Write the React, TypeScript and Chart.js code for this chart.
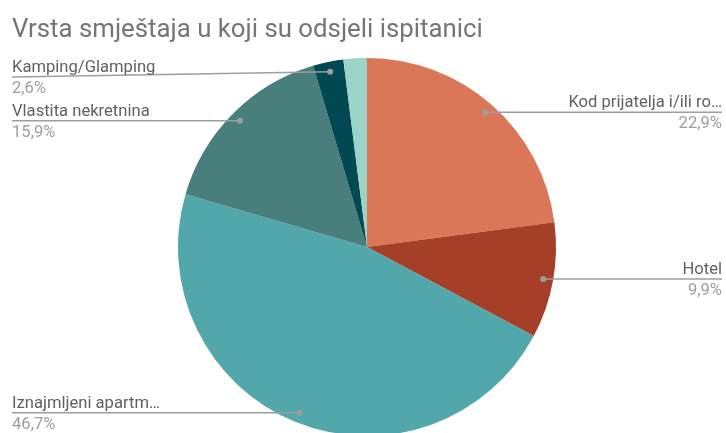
import React, { useEffect, useRef } from "react";
import { Chart, registerables } from "chart.js";

Chart.register(...registerables);

const titleText = "Vrsta smještaja u koji su odsjeli ispitanici";
const categories = [
  "Kod prijatelja i/ili ro…",
  "Hotel",
  "Iznajmljeni apartm…",
  "Vlastita nekretnina",
  "Kamping/Glamping",
  "Ostalo",
];
const values = [22.9, 9.9, 46.7, 15.9, 2.6, 2.0];
const valueLabels = ["22,9%", "9,9%", "46,7%", "15,9%", "2,6%", ""];
const showLabel = [true, true, true, true, true, false];
const colors = ["#DA7759", "#A63F27", "#51A7A9", "#487E7B", "#004852", "#9DD2C9"];

const labelPlugin = {
  id: "sideLabels",
  afterDraw(chart: any) {
    const ctx = chart.ctx;
    ctx.save();
    // title
    ctx.font = "25.8px Roboto";
    ctx.fillStyle = "#757575";
    ctx.textAlign = "left";
    ctx.textBaseline = "alphabetic";
    ctx.fillText(titleText, 12, 37);

    const meta = chart.getDatasetMeta(0);
    const minLabelY = 77;
    meta.data.forEach((arc: any, i: number) => {
      if (!showLabel[i]) return;
      const p = arc.getProps(["x", "y", "startAngle", "endAngle", "outerRadius"], true);
      const mid = (p.startAngle + p.endAngle) / 2;
      const r = p.outerRadius * 0.947;
      const dx = p.x + Math.cos(mid) * r;
      const dy = p.y + Math.sin(mid) * r;
      const right = Math.cos(mid) >= 0;
      const lineY = Math.max(dy, minLabelY);
      const endX = right ? chart.width - 4 : 12;

      ctx.strokeStyle = "#9e9e9e";
      ctx.lineWidth = 1.5;
      ctx.beginPath();
      ctx.moveTo(dx, dy);
      ctx.lineTo(endX, lineY);
      ctx.stroke();

      ctx.fillStyle = "#9e9e9e";
      ctx.beginPath();
      ctx.arc(dx, dy, 3, 0, Math.PI * 2);
      ctx.fill();

      ctx.textAlign = right ? "right" : "left";
      ctx.font = "16.6px Roboto";
      ctx.fillStyle = "#616161";
      ctx.fillText(categories[i], endX, lineY - 5);
      ctx.fillStyle = "#9e9e9e";
      ctx.fillText(valueLabels[i], endX, lineY + 16);
    });
    ctx.restore();
  },
};

export default function App() {
  const ref = useRef<HTMLCanvasElement | null>(null);
  useEffect(() => {
    if (!ref.current) return;
    const chart = new Chart(ref.current, {
      type: "pie",
      data: {
        labels: categories,
        datasets: [
          {
            data: values,
            backgroundColor: colors,
            borderWidth: 0,
          },
        ],
      },
      options: {
        animation: false,
        responsive: true,
        maintainAspectRatio: false,
        layout: { padding: { top: 58, bottom: 4, left: 178, right: 170 } },
        plugins: {
          legend: { display: false },
          tooltip: { enabled: false },
          title: { display: false },
        },
      },
      plugins: [labelPlugin],
    });
    return () => chart.destroy();
  }, []);
  return (
    <div style={{ position: "absolute", left: 0, top: 0, width: 726, height: 433, overflow: "hidden", background: "#fff" }}>
      <div style={{ position: "relative", width: 726, height: 440 }}>
        <canvas ref={ref} />
      </div>
    </div>
  );
}
